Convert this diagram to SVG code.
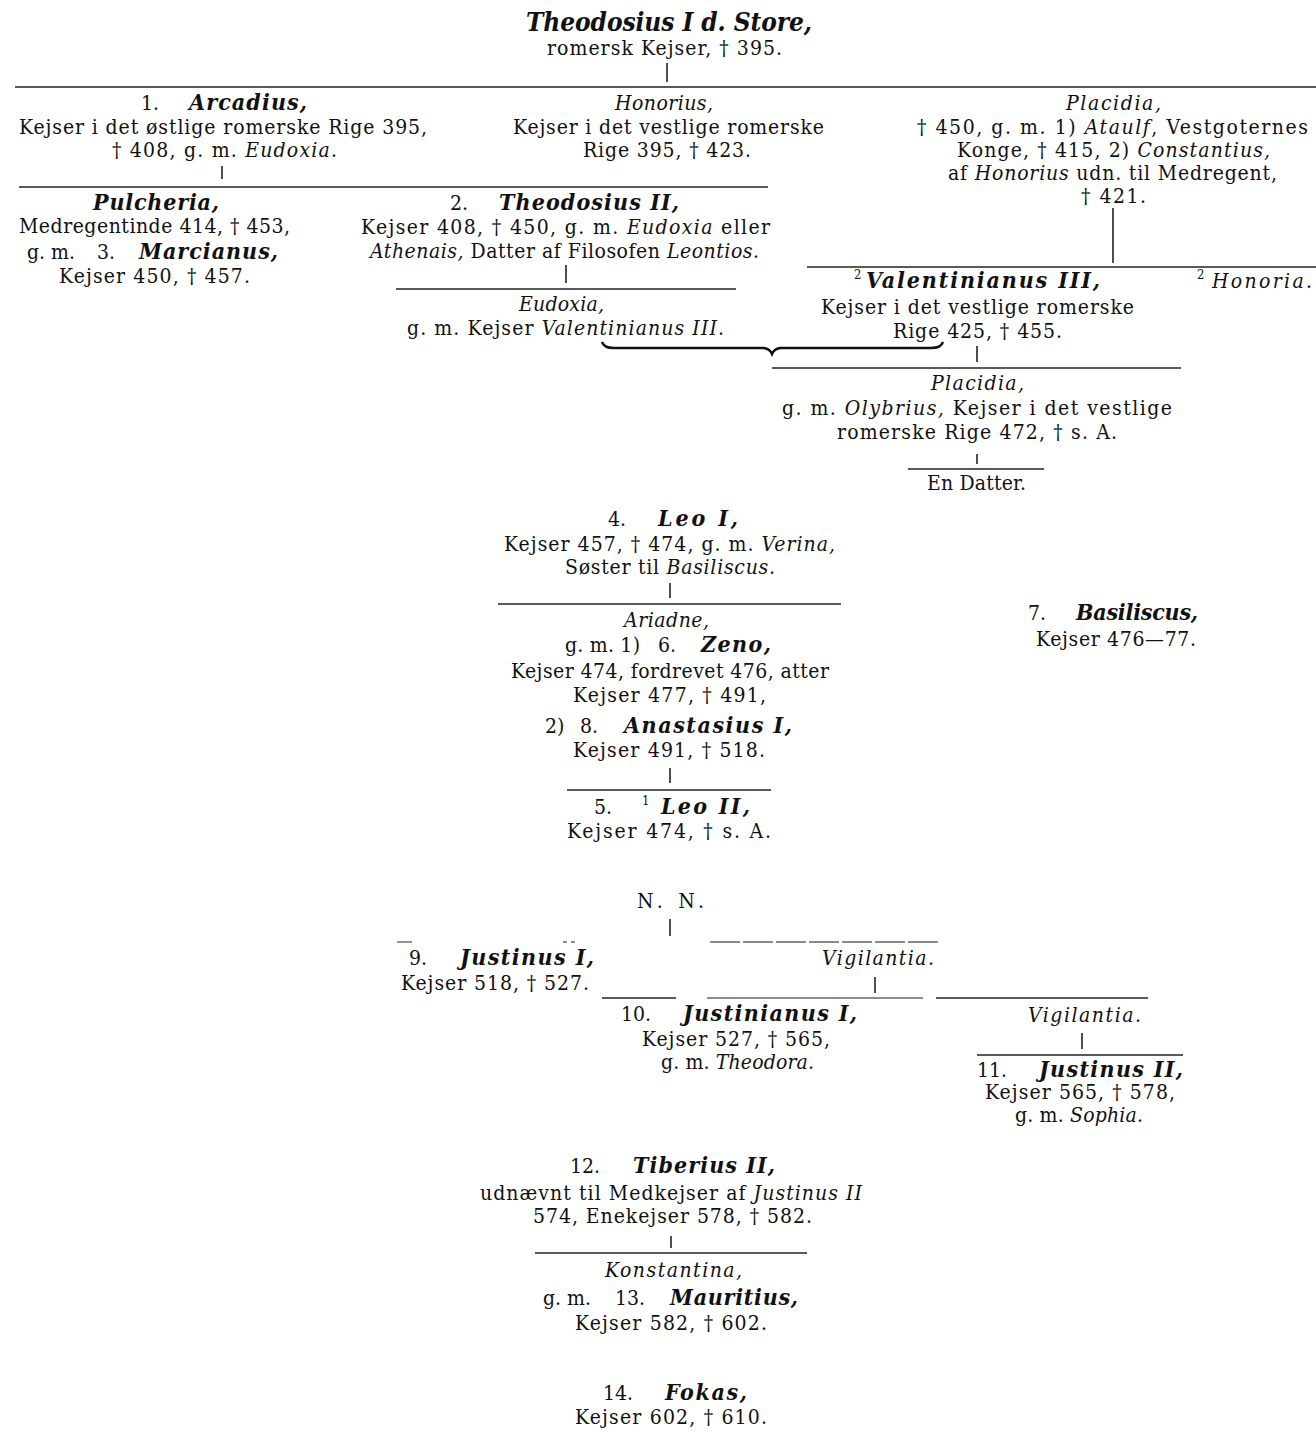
<svg xmlns="http://www.w3.org/2000/svg" width="1316" height="1432" viewBox="0 0 1316 1432">
<style>
text{font-family:"DejaVu Serif Condensed","DejaVu Serif","Liberation Serif",serif;font-stretch:condensed;fill:#111;}
.r{font-size:21px;}
.i{font-size:21px;font-style:italic;}
.b{font-size:23px;font-style:italic;font-weight:bold;}
.t{font-size:26px;font-style:italic;font-weight:bold;}
.s{font-size:13px;}
tspan.it{font-style:italic;}
.ln{stroke:#222;stroke-width:1.6;fill:none;}
.fl{stroke:#666;stroke-width:1.4;fill:none;}
</style>
<rect width="1316" height="1432" fill="#fff"/>
<g id="connectors">
<line class="ln" x1="667" y1="63" x2="667" y2="82"/>
<line class="ln" x1="15" y1="87" x2="1316" y2="87"/>
<line class="ln" x1="222" y1="166" x2="222" y2="179"/>
<line class="ln" x1="19" y1="187" x2="768" y2="187"/>
<line class="ln" x1="566" y1="265" x2="566" y2="283"/>
<line class="ln" x1="396" y1="289" x2="736" y2="289"/>
<line class="ln" x1="1113" y1="208" x2="1113" y2="263"/>
<line class="ln" x1="807" y1="267" x2="1316" y2="267"/>
<path d="M602,342 Q604,348 614,348 L764,348 Q770,349 772,354 Q774,349 780,348 L931,348 Q941,348 943,342" stroke="#111" stroke-width="2.4" fill="none"/>
<line class="ln" x1="977" y1="346" x2="977" y2="362"/>
<line class="ln" x1="772" y1="368" x2="1181" y2="368"/>
<line class="ln" x1="977" y1="454" x2="977" y2="464"/>
<line class="ln" x1="908" y1="469" x2="1044" y2="469"/>
<line class="ln" x1="670" y1="583" x2="670" y2="598"/>
<line class="ln" x1="498" y1="604" x2="841" y2="604"/>
<line class="ln" x1="670" y1="768" x2="670" y2="783"/>
<line class="ln" x1="567" y1="790" x2="771" y2="790"/>
<line class="ln" x1="670" y1="919" x2="670" y2="936"/>
<line class="fl" x1="397" y1="942" x2="412" y2="942"/>
<line class="fl" x1="563" y1="942" x2="578" y2="942" stroke-dasharray="4 4"/>
<line class="fl" x1="710" y1="942" x2="940" y2="942" stroke-dasharray="30 3"/>
<line class="ln" x1="875" y1="977" x2="875" y2="993"/>
<line class="ln" x1="602" y1="998" x2="676" y2="998"/>
<line class="fl" x1="707" y1="998" x2="923" y2="998"/>
<line class="ln" x1="936" y1="998" x2="1148" y2="998"/>
<line class="ln" x1="1082" y1="1033" x2="1082" y2="1049"/>
<line class="ln" x1="977" y1="1055" x2="1183" y2="1055"/>
<line class="ln" x1="671" y1="1236" x2="671" y2="1248"/>
<line class="ln" x1="535" y1="1253" x2="807" y2="1253"/>
</g>
<g id="theodosius1">
<text class="t" x="526" y="31" textLength="286" lengthAdjust="spacing">Theodosius I d. Store,</text>
<text class="r" x="547" y="55" textLength="235" lengthAdjust="spacing">romersk Kejser, † 395.</text>
</g>
<g id="arcadius">
<text class="r" x="141" y="110">1.</text>
<text class="b" x="189" y="110" textLength="118" lengthAdjust="spacing">Arcadius,</text>
<text class="r" x="19" y="134" textLength="408" lengthAdjust="spacing">Kejser i det østlige romerske Rige 395,</text>
<text class="r" x="112" y="157" textLength="225" lengthAdjust="spacing">† 408, g. m. <tspan class="it">Eudoxia</tspan>.</text>
</g>
<g id="honorius">
<text class="i" x="615" y="110" textLength="98" lengthAdjust="spacing">Honorius,</text>
<text class="r" x="513" y="134" textLength="311" lengthAdjust="spacing">Kejser i det vestlige romerske</text>
<text class="r" x="583" y="157" textLength="168" lengthAdjust="spacing">Rige 395, † 423.</text>
</g>
<g id="placidia1">
<text class="i" x="1066" y="110" textLength="95" lengthAdjust="spacing">Placidia,</text>
<text class="r" x="917" y="134" textLength="391" lengthAdjust="spacing">† 450, g. m. 1) <tspan class="it">Ataulf</tspan>, Vestgoternes</text>
<text class="r" x="957" y="157" textLength="313" lengthAdjust="spacing">Konge, † 415, 2) <tspan class="it">Constantius,</tspan></text>
<text class="r" x="948" y="180" textLength="329" lengthAdjust="spacing">af <tspan class="it">Honorius</tspan> udn. til Medregent,</text>
<text class="r" x="1081" y="203" textLength="65" lengthAdjust="spacing">† 421.</text>
</g>
<g id="pulcheria">
<text class="b" x="93" y="210" textLength="126" lengthAdjust="spacing">Pulcheria,</text>
<text class="r" x="19" y="233" textLength="271" lengthAdjust="spacing">Medregentinde 414, † 453,</text>
<text class="r" x="27" y="259">g. m.</text>
<text class="r" x="97" y="259">3.</text>
<text class="b" x="139" y="259" font-size="22" textLength="139" lengthAdjust="spacing">Marcianus,</text>
<text class="r" x="59" y="283" textLength="191" lengthAdjust="spacing">Kejser 450, † 457.</text>
</g>
<g id="theodosius2">
<text class="r" x="450" y="210">2.</text>
<text class="b" x="499" y="210" textLength="180" lengthAdjust="spacing">Theodosius II,</text>
<text class="r" x="361" y="234" textLength="409" lengthAdjust="spacing">Kejser 408, † 450, g. m. <tspan class="it">Eudoxia</tspan> eller</text>
<text class="r" x="370" y="258" textLength="389" lengthAdjust="spacing"><tspan class="it">Athenais,</tspan> Datter af Filosofen <tspan class="it">Leontios.</tspan></text>
</g>
<g id="eudoxia">
<text class="i" x="519" y="311" textLength="85" lengthAdjust="spacing">Eudoxia,</text>
<text class="r" x="407" y="335" textLength="317" lengthAdjust="spacing">g. m. Kejser <tspan class="it">Valentinianus III.</tspan></text>
</g>
<g id="valentinianus3">
<text class="s" x="854" y="279">2</text>
<text class="b" x="866" y="288" textLength="234" lengthAdjust="spacing">Valentinianus III,</text>
<text class="r" x="821" y="314" textLength="313" lengthAdjust="spacing">Kejser i det vestlige romerske</text>
<text class="r" x="893" y="338" textLength="169" lengthAdjust="spacing">Rige 425, † 455.</text>
</g>
<g id="honoria">
<text class="s" x="1197" y="279">2</text>
<text class="i" x="1212" y="288" textLength="100" lengthAdjust="spacing">Honoria.</text>
</g>
<g id="placidia2">
<text class="i" x="931" y="390" textLength="93" lengthAdjust="spacing">Placidia,</text>
<text class="r" x="782" y="415" textLength="390" lengthAdjust="spacing">g. m. <tspan class="it">Olybrius,</tspan> Kejser i det vestlige</text>
<text class="r" x="837" y="439" textLength="280" lengthAdjust="spacing">romerske Rige 472, † s. A.</text>
</g>
<g id="datter">
<text class="r" x="927" y="490" textLength="99" lengthAdjust="spacing">En Datter.</text>
</g>
<g id="leo1">
<text class="r" x="608" y="526">4.</text>
<text class="b" x="658" y="526" textLength="80" lengthAdjust="spacing">Leo I,</text>
<text class="r" x="504" y="551" textLength="331" lengthAdjust="spacing">Kejser 457, † 474, g. m. <tspan class="it">Verina,</tspan></text>
<text class="r" x="565" y="574" textLength="210" lengthAdjust="spacing">Søster til <tspan class="it">Basiliscus.</tspan></text>
</g>
<g id="ariadne">
<text class="i" x="624" y="627" textLength="85" lengthAdjust="spacing">Ariadne,</text>
<text class="r" x="565" y="652" textLength="75" lengthAdjust="spacing">g. m. 1)</text>
<text class="r" x="658" y="652">6.</text>
<text class="b" x="701" y="652" textLength="70" lengthAdjust="spacing">Zeno,</text>
<text class="r" x="511" y="678" textLength="318" lengthAdjust="spacing">Kejser 474, fordrevet 476, atter</text>
<text class="r" x="573" y="702" textLength="193" lengthAdjust="spacing">Kejser 477, † 491,</text>
<text class="r" x="545" y="733">2)</text>
<text class="r" x="580" y="733">8.</text>
<text class="b" x="624" y="733" textLength="168" lengthAdjust="spacing">Anastasius I,</text>
<text class="r" x="573" y="757" textLength="192" lengthAdjust="spacing">Kejser 491, † 518.</text>
</g>
<g id="leo2">
<text class="r" x="594" y="814">5.</text>
<text class="s" x="642" y="805">1</text>
<text class="b" x="661" y="814" textLength="89" lengthAdjust="spacing">Leo II,</text>
<text class="r" x="567" y="838" textLength="204" lengthAdjust="spacing">Kejser 474, † s. A.</text>
</g>
<g id="basiliscus">
<text class="r" x="1028" y="620">7.</text>
<text class="b" x="1076" y="620" textLength="122" lengthAdjust="spacing">Basiliscus,</text>
<text class="r" x="1036" y="646" textLength="160" lengthAdjust="spacing">Kejser 476—77.</text>
</g>
<g id="nn">
<text class="r" x="637" y="908" textLength="67" lengthAdjust="spacing">N. N.</text>
</g>
<g id="justinus1">
<text class="r" x="409" y="965">9.</text>
<text class="b" x="460" y="965" textLength="134" lengthAdjust="spacing">Justinus I,</text>
<text class="r" x="401" y="990" textLength="188" lengthAdjust="spacing">Kejser 518, † 527.</text>
</g>
<g id="vigilantia1">
<text class="i" x="822" y="965" textLength="112" lengthAdjust="spacing">Vigilantia.</text>
</g>
<g id="justinianus1">
<text class="r" x="621" y="1021">10.</text>
<text class="b" x="683" y="1021" textLength="174" lengthAdjust="spacing">Justinianus I,</text>
<text class="r" x="642" y="1046" textLength="188" lengthAdjust="spacing">Kejser 527, † 565,</text>
<text class="r" x="661" y="1069" textLength="153" lengthAdjust="spacing">g. m. <tspan class="it">Theodora.</tspan></text>
</g>
<g id="vigilantia2">
<text class="i" x="1028" y="1022" textLength="113" lengthAdjust="spacing">Vigilantia.</text>
</g>
<g id="justinus2">
<text class="r" x="977" y="1077">11.</text>
<text class="b" x="1039" y="1077" textLength="144" lengthAdjust="spacing">Justinus II,</text>
<text class="r" x="985" y="1099" textLength="190" lengthAdjust="spacing">Kejser 565, † 578,</text>
<text class="r" x="1015" y="1122" textLength="128" lengthAdjust="spacing">g. m. <tspan class="it">Sophia.</tspan></text>
</g>
<g id="tiberius2">
<text class="r" x="570" y="1173">12.</text>
<text class="b" x="633" y="1173" textLength="142" lengthAdjust="spacing">Tiberius II,</text>
<text class="r" x="480" y="1200" textLength="382" lengthAdjust="spacing">udnævnt til Medkejser af <tspan class="it">Justinus II</tspan></text>
<text class="r" x="533" y="1223" textLength="279" lengthAdjust="spacing">574, Enekejser 578, † 582.</text>
</g>
<g id="konstantina">
<text class="i" x="605" y="1277" textLength="137" lengthAdjust="spacing">Konstantina,</text>
<text class="r" x="543" y="1305">g. m.</text>
<text class="r" x="615" y="1305">13.</text>
<text class="b" x="670" y="1305" textLength="128" lengthAdjust="spacing">Mauritius,</text>
<text class="r" x="575" y="1330" textLength="192" lengthAdjust="spacing">Kejser 582, † 602.</text>
</g>
<g id="fokas">
<text class="r" x="603" y="1400">14.</text>
<text class="b" x="665" y="1400" textLength="82" lengthAdjust="spacing">Fokas,</text>
<text class="r" x="575" y="1424" textLength="192" lengthAdjust="spacing">Kejser 602, † 610.</text>
</g>
</svg>
